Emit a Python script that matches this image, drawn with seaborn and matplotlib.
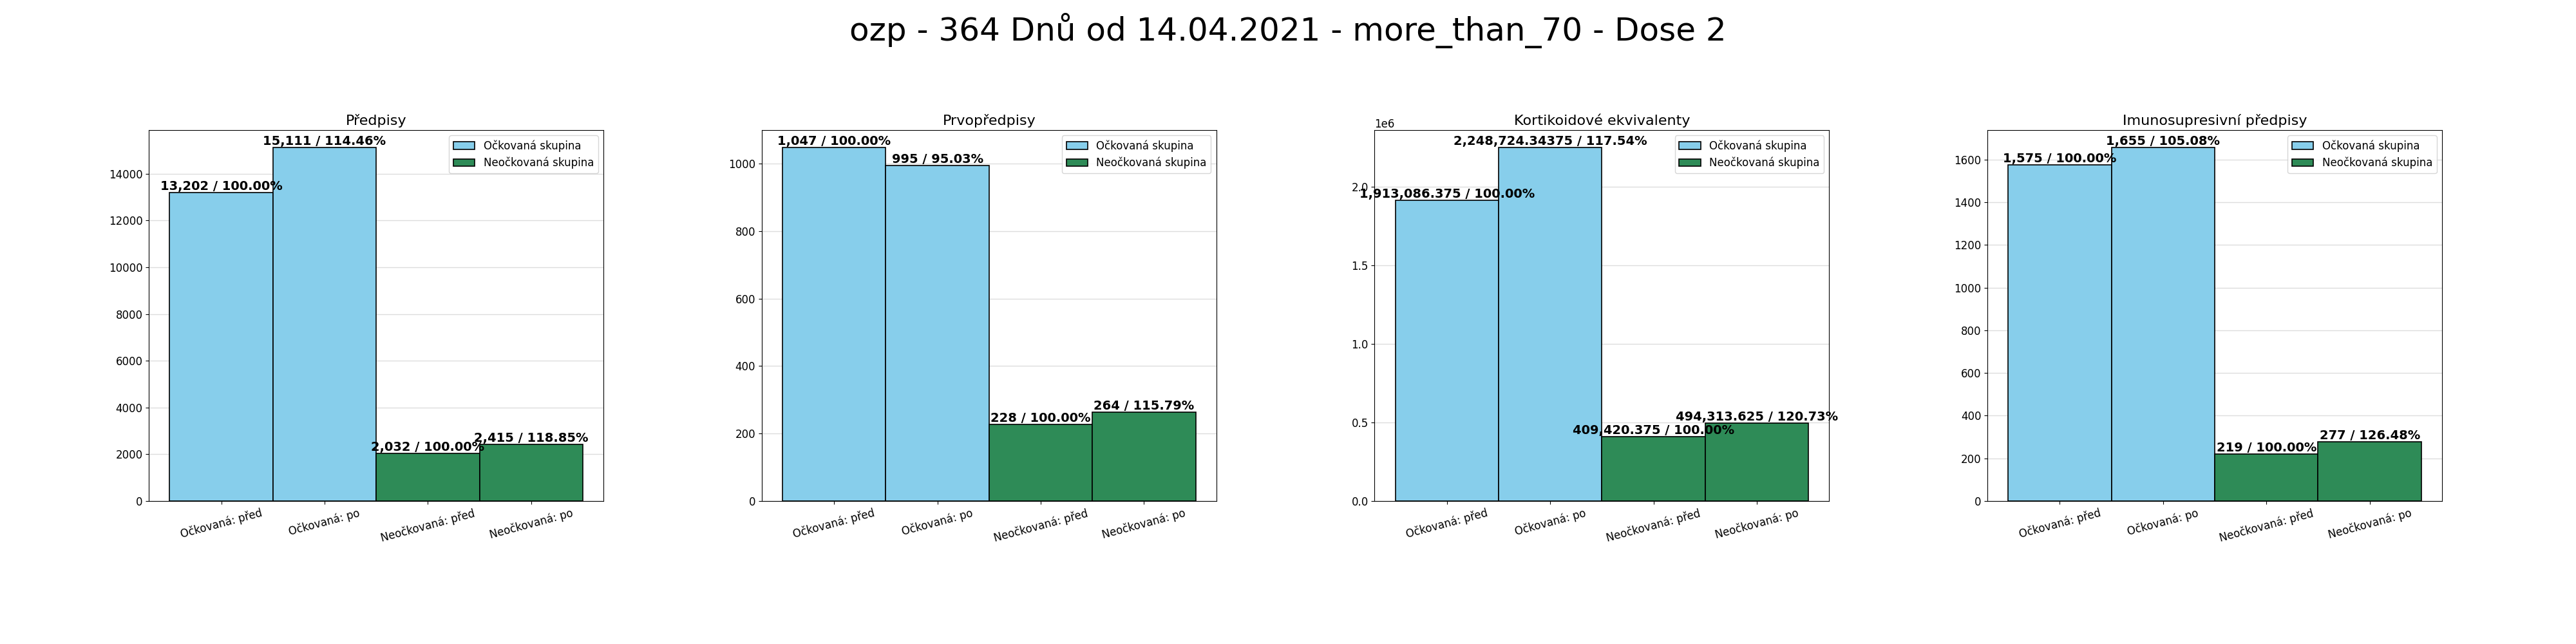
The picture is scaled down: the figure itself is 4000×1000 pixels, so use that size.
import matplotlib
matplotlib.use("Agg")
import matplotlib.pyplot as plt
import seaborn as sns
import pandas as pd

suptitle = "ozp - 364 Dnů od 14.04.2021 - more_than_70 - Dose 2"
categories = ["Očkovaná: před", "Očkovaná: po", "Neočkovaná: před", "Neočkovaná: po"]
groups = ["Očkovaná skupina", "Očkovaná skupina", "Neočkovaná skupina", "Neočkovaná skupina"]
panel_titles = ["Předpisy", "Prvopředpisy", "Kortikoidové ekvivalenty", "Imunosupresivní předpisy"]

predpisy = [13202, 15111, 2032, 2415]
prvopredpisy = [1047, 995, 228, 264]
kortikoidy = [1913086.375, 2248724.34375, 409420.375, 494313.625]
imunosupresivni = [1575, 1655, 219, 277]

pct_predpisy = [100.00, 114.46, 100.00, 118.85]
pct_prvopredpisy = [100.00, 95.03, 100.00, 115.79]
pct_kortikoidy = [100.00, 117.54, 100.00, 120.73]
pct_imunosupresivni = [100.00, 105.08, 100.00, 126.48]

series = [predpisy, prvopredpisy, kortikoidy, imunosupresivni]
pcts = [pct_predpisy, pct_prvopredpisy, pct_kortikoidy, pct_imunosupresivni]

palette = {"Očkovaná skupina": "skyblue", "Neočkovaná skupina": "seagreen"}

fig, axes = plt.subplots(1, 4, figsize=(40, 10), dpi=100)
fig.subplots_adjust(left=0.0578, right=0.948, bottom=0.222, top=0.798, wspace=0.348)

for ax, title, vals, pc in zip(axes, panel_titles, series, pcts):
    df = pd.DataFrame({"cat": categories, "val": vals, "grp": groups})
    sns.barplot(data=df, x="cat", y="val", hue="grp", palette=palette, dodge=False,
                width=1.0, edgecolor="black", linewidth=1.2, saturation=1, ax=ax)
    ax.set_axisbelow(True)
    ax.yaxis.grid(True, color="#dddddd", linewidth=1)
    ax.set_xlim(-0.7, 3.7)
    ax.set_title(title, fontsize=16)
    ax.set_xlabel("")
    ax.set_ylabel("")
    ax.tick_params(axis="both", labelsize=12)
    for lab in ax.get_xticklabels():
        lab.set_rotation(15)
        lab.set_ha("center")
    ax.yaxis.get_offset_text().set_fontsize(12)
    for i, (v, p) in enumerate(zip(vals, pc)):
        ax.text(i, v, f"{v:,} / {p:.2f}%", ha="center", va="bottom",
                fontsize=14, fontweight="bold")
    ax.legend(loc="upper right", fontsize=12, title=None)

fig.suptitle(suptitle, fontsize=36)
fig.savefig("out.png", dpi=100)
